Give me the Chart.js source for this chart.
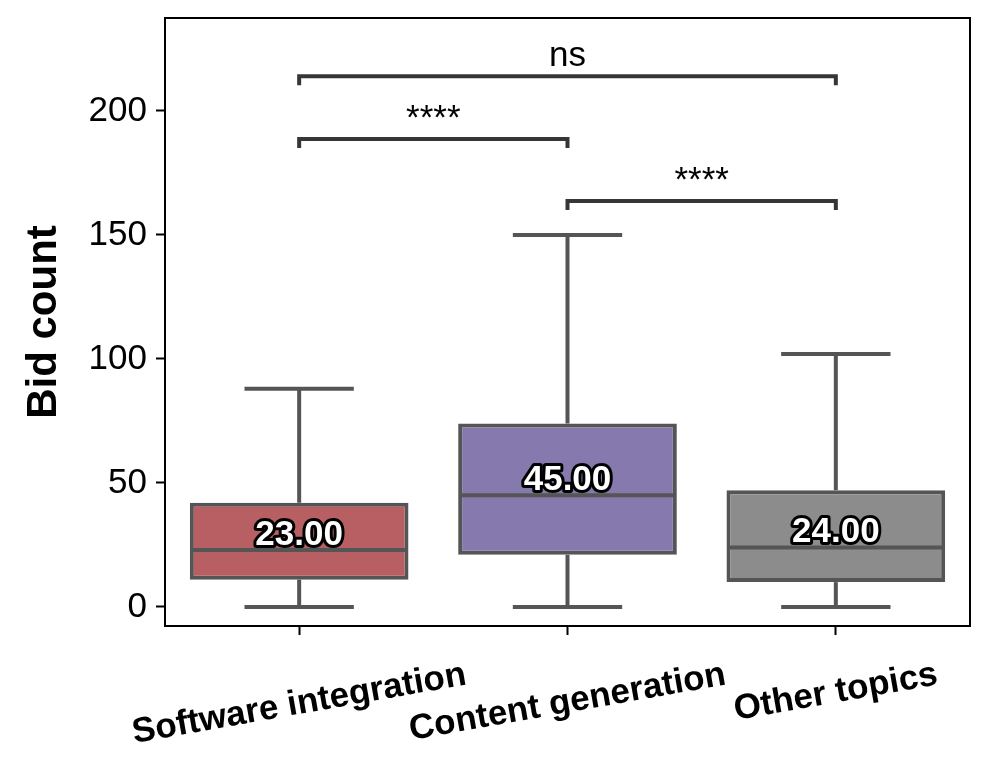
<!DOCTYPE html>
<html>
<head>
<meta charset="utf-8">
<script src="https://cdn.jsdelivr.net/npm/chart.js@4.4.1/dist/chart.umd.min.js"></script>
<style>
    html, body { margin: 0; padding: 0; background: #fff; }
    #wrap { width: 997px; height: 772px; }
</style>
</head>
<body>
<div id="wrap"><canvas id="boxChart" width="997" height="772"></canvas></div>
<script>
// --- DATA ---
const categories = ['Software integration', 'Content generation', 'Other topics'];
const q1 = [11, 21, 10];
const q3 = [42, 74, 47];
const medians = [23, 45, 24];
const whiskerLow = [0, 0, 0];
const whiskerHigh = [88, 150, 102];
const yTicks = [0, 50, 100, 150, 200];

// significance brackets: pair of category indexes, bracket height, label
const sigPairs = [[0, 1], [1, 2], [0, 2]];
const sigHeights = [188.7, 163.7, 214];
const sigLabels = ['****', '****', 'ns'];

// --- STYLE ---
const FONT = "'Liberation Sans', Arial, sans-serif";
const boxColors = ['#B75F62', '#8679AD', '#8C8C8C'];
const LINE_COLOR = '#555555';
const BRACKET_COLOR = '#363636';

function line(ctx, x1, y1, x2, y2) {
    ctx.beginPath();
    ctx.moveTo(x1, y1);
    ctx.lineTo(x2, y2);
    ctx.stroke();
}

// whiskers, caps, medians and their labels
const boxExtras = {
    id: 'boxExtras',
    afterDatasetsDraw(chart) {
        const { ctx, scales: { x, y } } = chart;
        const bars = chart.getDatasetMeta(0).data;
        ctx.save();
        ctx.strokeStyle = LINE_COLOR;
        ctx.lineWidth = 4;
        categories.forEach((c, i) => {
            const cx = x.getPixelForValue(i);
            const half = bars[i].width / 2;
            const cap = half / 2;
            const yHi = y.getPixelForValue(whiskerHigh[i]);
            const yLo = y.getPixelForValue(whiskerLow[i]);
            line(ctx, cx, y.getPixelForValue(q3[i]), cx, yHi);
            line(ctx, cx, y.getPixelForValue(q1[i]), cx, yLo);
            line(ctx, cx - cap, yHi, cx + cap, yHi);
            line(ctx, cx - cap, yLo, cx + cap, yLo);
            const yMed = y.getPixelForValue(medians[i]);
            line(ctx, cx - half + 2, yMed, cx + half - 2, yMed);
        });

        ctx.font = `bold 35px ${FONT}`;
        ctx.textAlign = 'center';
        ctx.textBaseline = 'alphabetic';
        ctx.lineJoin = 'round';
        categories.forEach((c, i) => {
            const cx = x.getPixelForValue(i);
            const ty = y.getPixelForValue(medians[i]) - 5;
            const txt = medians[i].toFixed(2);
            ctx.lineWidth = 6;
            ctx.strokeStyle = '#000';
            ctx.strokeText(txt, cx, ty);
            ctx.fillStyle = '#fff';
            ctx.fillText(txt, cx, ty);
        });
        ctx.restore();
    },
    afterDraw(chart) {
        const { ctx, chartArea: a, scales: { x, y } } = chart;
        ctx.save();

        // frame top/right
        ctx.strokeStyle = '#000';
        ctx.lineWidth = 2;
        ctx.strokeRect(a.left, a.top, a.right - a.left, a.bottom - a.top);

        // brackets
        ctx.strokeStyle = BRACKET_COLOR;
        ctx.lineWidth = 4;
        ctx.lineCap = 'butt';
        ctx.font = `35px ${FONT}`;
        ctx.fillStyle = '#000';
        ctx.textAlign = 'center';
        ctx.textBaseline = 'alphabetic';
        sigPairs.forEach(([i, j], k) => {
            const x1 = x.getPixelForValue(i);
            const x2 = x.getPixelForValue(j);
            const yTop = y.getPixelForValue(sigHeights[k]);
            const yTip = y.getPixelForValue(sigHeights[k] - 3.6);
            ctx.beginPath();
            ctx.moveTo(x1, yTip);
            ctx.lineTo(x1, yTop);
            ctx.lineTo(x2, yTop);
            ctx.lineTo(x2, yTip);
            ctx.stroke();
            ctx.fillText(sigLabels[k], (x1 + x2) / 2, yTop - 10);
        });

        // rotated category labels, centred on their ticks
        ctx.font = `bold 35px ${FONT}`;
        ctx.textBaseline = 'middle';
        const rot = -10 * Math.PI / 180;
        const labelTop = a.bottom + 29;
        categories.forEach((c, i) => {
            const cx = x.getPixelForValue(i);
            const w = ctx.measureText(c).width;
            const bboxH = w * Math.sin(-rot) + 40 * Math.cos(rot);
            ctx.save();
            ctx.translate(cx, labelTop + bboxH / 2);
            ctx.rotate(rot);
            ctx.fillText(c, 0, 0);
            ctx.restore();
        });
        ctx.restore();
    }
};

Chart.defaults.font.family = FONT;
Chart.defaults.color = '#000';

new Chart(document.getElementById('boxChart'), {
    type: 'bar',
    data: {
        labels: categories,
        datasets: [{
            data: categories.map((c, i) => [q1[i], q3[i]]),
            backgroundColor: boxColors,
            borderColor: LINE_COLOR,
            borderWidth: 4,
            borderSkipped: false,
            barPercentage: 0.815,
            categoryPercentage: 1.0
        }]
    },
    options: {
        responsive: false,
        animation: false,
        layout: { padding: { top: 18, right: 27, left: 0, bottom: 0 } },
        plugins: {
            legend: { display: false },
            tooltip: { enabled: false }
        },
        scales: {
            x: {
                offset: true,
                grid: { offset: false, drawOnChartArea: false, tickLength: 9, tickColor: '#000', tickWidth: 2 },
                border: { color: '#000', width: 2 },
                ticks: { display: false },
                afterFit(scale) {
                    scale.height = 146;
                    scale.paddingLeft = 0;
                    scale.paddingRight = 0;
                }
            },
            y: {
                min: -7.7,
                max: 237.5,
                afterBuildTicks(scale) { scale.ticks = yTicks.map(v => ({ value: v })); },
                grid: { drawOnChartArea: false, tickLength: 9, tickColor: '#000', tickWidth: 2 },
                border: { color: '#000', width: 2 },
                ticks: { font: { size: 35 }, color: '#000', padding: 9 },
                title: {
                    display: true,
                    text: 'Bid count',
                    font: { size: 42, weight: 'bold' },
                    color: '#000',
                    padding: { top: 19, bottom: 0 }
                },
                afterFit(scale) {
                    scale.width = 165;
                    scale.paddingTop = 0;
                    scale.paddingBottom = 0;
                }
            }
        }
    },
    plugins: [boxExtras]
});
</script>
</body>
</html>
